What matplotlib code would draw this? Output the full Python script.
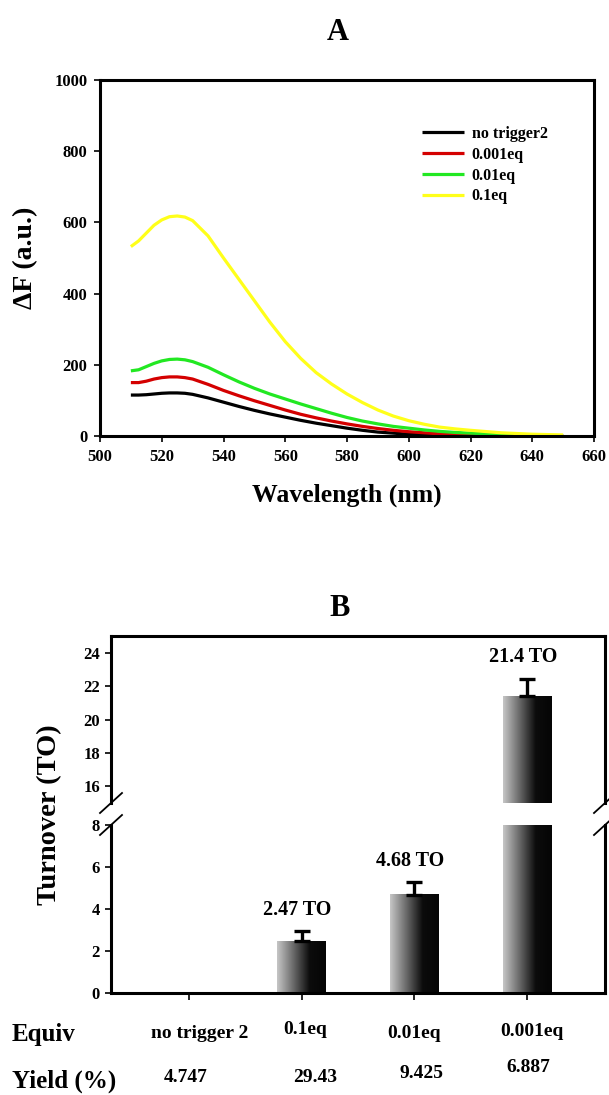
import numpy as np
import matplotlib
matplotlib.use("Agg")
import matplotlib.pyplot as plt
from matplotlib.colors import LinearSegmentedColormap
from matplotlib.lines import Line2D

plt.rcParams['font.family'] = ['Liberation Serif', 'DejaVu Serif']
plt.rcParams['font.weight'] = 'bold'

# ---------------- Data: panel A ----------------
wavelength = [510, 512.5, 515, 517.5, 520, 522.5, 525, 527.5, 530, 535, 540, 545, 550, 555, 560, 565, 570,
              575, 580, 585, 590, 595, 600, 605, 610, 615, 620, 630, 640, 650]
no_trigger = [115, 115, 116, 118, 120, 121, 121, 120, 117, 107, 95, 83, 72, 62, 53, 44, 36,
              29, 22, 16, 11, 8, 5, 3, 2, 1, 1, 0, 0, 0]
eq_0001 = [150, 150, 154, 160, 164, 166, 166, 164, 160, 145, 128, 113, 99, 86, 73, 61, 51,
           42, 34, 27, 21, 16, 12, 9, 6, 4, 3, 1, 1, 0]
eq_001 = [183, 186, 195, 204, 211, 215, 216, 214, 209, 193, 172, 152, 134, 118, 104, 90, 77,
          64, 52, 42, 34, 27, 22, 17, 13, 10, 8, 4, 2, 1]
eq_01 = [532, 548, 570, 592, 607, 616, 618, 615, 605, 562, 500, 440, 380, 320, 265, 218, 178,
         146, 118, 94, 73, 56, 43, 33, 25, 20, 16, 9, 5, 3]
series_labels = ['no trigger2', '0.001eq', '0.01eq', '0.1eq']
series_colors = ['#000000', '#d40000', '#22e822', '#ffff1a']

# ---------------- Data: panel B ----------------
categories = ['no trigger 2', '0.1eq', '0.01eq', '0.001eq']
turnover = [0, 2.47, 4.68, 21.4]
turnover_err = [0, 0.5, 0.6, 1.05]
bar_labels = ['', '2.47 TO', '4.68 TO', '21.4 TO']
yields = ['4.747', '29.43', '9.425', '6.887']

W, H = 609, 1095
fig = plt.figure(figsize=(W / 100, H / 100), dpi=100)

def fx(px):
    return px / W

def fy(py):
    return 1 - py / H

# ================= Panel A =================
axA = fig.add_axes([fx(100), fy(436), fx(594) - fx(100), fy(80) - fy(436)])
for y, lab, c in zip([no_trigger, eq_0001, eq_001, eq_01], series_labels, series_colors):
    axA.plot(wavelength, y, color=c, lw=2.3, label=lab, solid_capstyle='butt')
axA.set_xlim(500, 660)
axA.set_ylim(0, 1000)
axA.set_xticks(np.arange(500, 661, 20))
axA.set_yticks(np.arange(0, 1001, 200))
for s in axA.spines.values():
    s.set_linewidth(2.2)
axA.tick_params(direction='out', length=4, width=1.2, labelsize=12, pad=5)
for t in axA.get_xticklabels() + axA.get_yticklabels():
    t.set_fontweight('bold')
axA.set_xlabel('Wavelength (nm)', fontsize=18.5, fontweight='bold', labelpad=14)
axA.set_ylabel('ΔF (a.u.)', fontsize=20, fontweight='bold', labelpad=12)
leg = axA.legend(loc='upper left', bbox_to_anchor=(0.636, 0.893), frameon=False,
                 prop={'size': 11.5, 'weight': 'bold'}, handlelength=2.6,
                 handletextpad=0.5, labelspacing=0.3, borderpad=0)
fig.text(fx(338), fy(32), 'A', ha='center', va='center', fontsize=22, fontweight='bold')

# ================= Panel B (broken axis) =================
left, right = fx(111), fx(605)
axT = fig.add_axes([left, fy(803), right - left, fy(636) - fy(803)])
axB = fig.add_axes([left, fy(993), right - left, fy(825) - fy(993)])

cmap = LinearSegmentedColormap.from_list('g', ['#c6c6c6', '#6a6a6a', '#0c0c0c', '#050505'])
grad = np.linspace(0, 1, 256).reshape(1, -1)
x = np.arange(len(categories))
bw = 0.43

for ax, (lo, hi) in ((axT, (15, 25)), (axB, (0, 8))):
    bars = ax.bar(x, turnover, width=bw, color='none', edgecolor='none')
    for b, v in zip(bars, turnover):
        if v <= lo:
            continue
        x0 = b.get_x()
        ax.imshow(grad, extent=[x0, x0 + b.get_width(), lo, min(v, hi)], aspect='auto',
                  cmap=cmap, zorder=2)
    idx = [i for i, v in enumerate(turnover) if v > 0]
    ax.errorbar([x[i] for i in idx], [turnover[i] for i in idx],
                yerr=[[0] * len(idx), [turnover_err[i] for i in idx]],
                fmt='none', ecolor='black', elinewidth=2.4, capsize=5.5, capthick=2.4, zorder=3)
    ax.set_xlim(-0.69, 3.69)
    ax.set_ylim(lo, hi)
    for s in ax.spines.values():
        s.set_linewidth(2.2)
    ax.tick_params(direction='out', length=4, width=1.2, labelsize=12, pad=4)

axT.set_yticks([16, 18, 20, 22, 24])
axT.spines['bottom'].set_visible(False)
axT.tick_params(axis='x', bottom=False, labelbottom=False)

axB.set_yticks([0, 2, 4, 6, 8])
axB.spines['top'].set_visible(False)
axB.set_xticks(x)
axB.set_xticklabels([''] * len(x))
axB.tick_params(axis='x', length=5)

for ax in (axT, axB):
    for t in ax.get_yticklabels():
        t.set_fontweight('bold')

# value labels
for i, (v, e, lab) in enumerate(zip(turnover, turnover_err, bar_labels)):
    if not lab:
        continue
    ax = axT if v > 15 else axB
    ax.annotate(lab, xy=(x[i], v + e), xytext=(-3, 8), textcoords='offset points',
                ha='center', va='bottom', fontsize=14.5, fontweight='bold')

# break marks
for xp in (111, 605):
    for yp in (803, 825):
        fig.add_artist(Line2D([fx(xp - 11), fx(xp + 11)], [fy(yp + 10), fy(yp - 10)],
                              color='black', lw=1.3))

fig.text(fx(50), fy(815), 'Turnover (TO)', rotation=90, ha='center', va='center',
         fontsize=20.5, fontweight='bold')
fig.text(fx(340), fy(608), 'B', ha='center', va='center', fontsize=22, fontweight='bold')

# Equiv / Yield rows
fig.text(fx(12), fy(1035), 'Equiv', ha='left', va='center', fontsize=18, fontweight='bold')
fig.text(fx(12), fy(1081), 'Yield (%)', ha='left', va='center', fontsize=18, fontweight='bold')
cat_px = [200, 305, 414, 532]
cat_py = [1033, 1030, 1033, 1031]
for c, px, py in zip(categories, cat_px, cat_py):
    fig.text(fx(px), fy(py), c, ha='center', va='center', fontsize=14, fontweight='bold')
y_px = [186, 315, 421, 528]
y_py = [1078, 1078, 1074, 1067]
for s, px, py in zip(yields, y_px, y_py):
    fig.text(fx(px), fy(py), s, ha='center', va='center', fontsize=14, fontweight='bold')

fig.savefig('out.png', dpi=100)
